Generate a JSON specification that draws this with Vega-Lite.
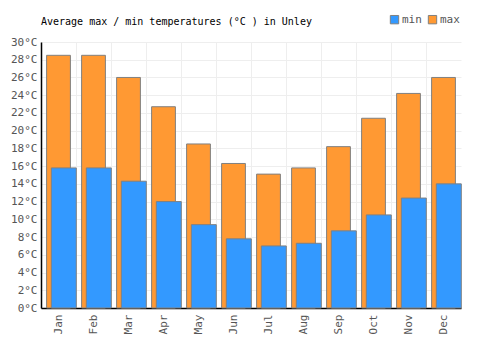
{
  "$schema": "https://vega.github.io/schema/vega-lite/v6.json",
  "autosize": {"type": "none"},
  "width": 420,
  "height": 266,
  "padding": {"left": 41, "top": 42, "right": 39, "bottom": 42},
  "background": "white",
  "title": {
    "text": "Average max / min temperatures (°C ) in Unley",
    "anchor": "start",
    "frame": "group",
    "font": "DejaVu Sans Mono",
    "fontSize": 10,
    "fontWeight": "normal",
    "color": "#000000",
    "offset": -13
  },
  "config": {
    "view": {"stroke": null},
    "font": "DejaVu Sans Mono"
  },
  "data": {
    "values": [
      {"month": "Jan", "series": "max", "temp": 28.5},
      {"month": "Feb", "series": "max", "temp": 28.5},
      {"month": "Mar", "series": "max", "temp": 26.0},
      {"month": "Apr", "series": "max", "temp": 22.7},
      {"month": "May", "series": "max", "temp": 18.5},
      {"month": "Jun", "series": "max", "temp": 16.3},
      {"month": "Jul", "series": "max", "temp": 15.1},
      {"month": "Aug", "series": "max", "temp": 15.8},
      {"month": "Sep", "series": "max", "temp": 18.2},
      {"month": "Oct", "series": "max", "temp": 21.4},
      {"month": "Nov", "series": "max", "temp": 24.2},
      {"month": "Dec", "series": "max", "temp": 26.0},
      {"month": "Jan", "series": "min", "temp": 15.8},
      {"month": "Feb", "series": "min", "temp": 15.8},
      {"month": "Mar", "series": "min", "temp": 14.3},
      {"month": "Apr", "series": "min", "temp": 12.0},
      {"month": "May", "series": "min", "temp": 9.4},
      {"month": "Jun", "series": "min", "temp": 7.8},
      {"month": "Jul", "series": "min", "temp": 7.0},
      {"month": "Aug", "series": "min", "temp": 7.3},
      {"month": "Sep", "series": "min", "temp": 8.7},
      {"month": "Oct", "series": "min", "temp": 10.5},
      {"month": "Nov", "series": "min", "temp": 12.4},
      {"month": "Dec", "series": "min", "temp": 14.0}
    ]
  },
  "encoding": {
    "x": {
      "field": "month",
      "type": "nominal",
      "sort": ["Jan","Feb","Mar","Apr","May","Jun","Jul","Aug","Sep","Oct","Nov","Dec"],
      "scale": {"paddingInner": 0, "paddingOuter": 0},
      "axis": {
        "title": null,
        "labelAngle": -90,
        "labelColor": "#555555",
        "labelFontSize": 11,
        "labelPadding": 6,
        "domainColor": "#000000",
        "domainWidth": 1.5,
        "ticks": false,
        "grid": true,
        "gridColor": "#eeeeee",
        "bandPosition": 0
      }
    },
    "y": {
      "field": "temp",
      "type": "quantitative",
      "scale": {"domain": [0, 30], "nice": false},
      "axis": {
        "title": null,
        "values": [0,2,4,6,8,10,12,14,16,18,20,22,24,26,28,30],
        "labelExpr": "datum.value + '°C'",
        "labelColor": "#555555",
        "labelFontSize": 11,
        "labelPadding": 4,
        "domainColor": "#000000",
        "domainWidth": 1.5,
        "ticks": false,
        "gridColor": "#eeeeee"
      }
    },
    "color": {
      "field": "series",
      "type": "nominal",
      "scale": {"domain": ["min", "max"], "range": ["#3399ff", "#ff9933"]},
      "legend": {
        "title": null,
        "orient": "none",
        "legendX": 348,
        "legendY": -28,
        "direction": "horizontal",
        "symbolType": "square",
        "symbolSize": 70,
        "symbolStrokeColor": "#808080",
        "symbolStrokeWidth": 1,
        "labelFontSize": 11,
        "labelColor": "#555555",
        "columnPadding": 4,
        "labelOffset": 2
      }
    }
  },
  "layer": [
    {
      "transform": [{"filter": "datum.series === 'max'"}],
      "mark": {"type": "bar", "width": {"band": 0.68}, "stroke": "#808080", "strokeWidth": 1, "opacity": 1}
    },
    {
      "transform": [{"filter": "datum.series === 'min'"}],
      "mark": {"type": "bar", "width": 25, "xOffset": 5.3, "stroke": "#808080", "strokeWidth": 1, "opacity": 1}
    }
  ]
}
